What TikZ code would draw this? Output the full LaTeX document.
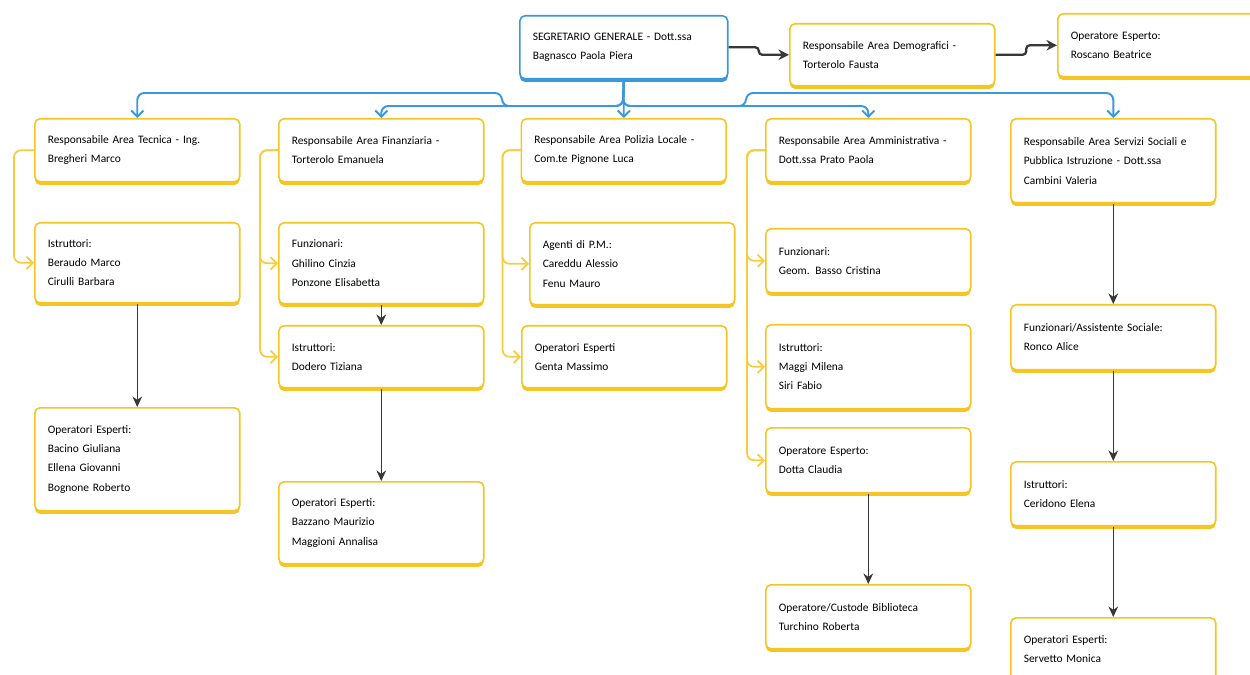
\documentclass[tikz,border=0pt]{standalone}
\usepackage{fontspec}
\setmainfont{Carlito}
\usetikzlibrary{arrows.meta,shadows,calc}
\definecolor{cardyellow}{RGB}{245,197,35}
\definecolor{linkyellow}{RGB}{246,204,64}
\definecolor{headblue}{RGB}{58,152,222}
\definecolor{arrowgrey}{RGB}{55,55,55}
\begin{document}
\begin{tikzpicture}[x=0.02cm,y=-0.02cm,
  card/.style={draw=cardyellow, line width=0.9pt, fill=white, rounded corners=3pt,
    anchor=north west, align=left, text width=3.58cm, inner xsep=0.26cm,
    font=\fontsize{6.5}{11}\selectfont,
    drop shadow={shadow xshift=0pt, shadow yshift=-1.8pt, fill=cardyellow, opacity=1}},
  headcard/.style={card, draw=headblue, text width=3.64cm,
    drop shadow={shadow xshift=0pt, shadow yshift=-1.8pt, fill=headblue, opacity=1}},
  feed/.style={draw=headblue, line width=1.1pt, rounded corners=4pt, -{Straight Barb[length=3.5pt,width=7pt]}},
  branch/.style={draw=linkyellow, line width=1pt, rounded corners=4pt, -{Straight Barb[length=3.5pt,width=7pt]}},
  down/.style={draw=arrowgrey, line width=0.8pt, -{Stealth[length=6pt,width=5.5pt]}},
  side/.style={draw=arrowgrey, line width=1.3pt, rounded corners=2pt, -{Stealth[length=6pt,width=6pt]}}]
\useasboundingbox (0,0) rectangle (1250,675);

% top row
\node[headcard, minimum height=1.26cm] (sg) at (519,15) {SEGRETARIO GENERALE - Dott.ssa\\Bagnasco Paola Piera};
\node[card, minimum height=1.24cm] (demo) at (789,23) {Responsabile Area Demografici -\\Torterolo Fausta};
\node[card, minimum height=1.26cm] (roscano) at (1057,13) {Operatore Esperto:\\Roscano Beatrice};

% area heads
\node[card, minimum height=1.26cm] (tecnica) at (34,118) {Responsabile Area Tecnica - Ing.\\Bregheri Marco};
\node[card, minimum height=1.26cm] (finanz) at (278,118) {Responsabile Area Finanziaria -\\Torterolo Emanuela};
\node[card, minimum height=1.26cm] (polizia) at (520.5,118) {Responsabile Area Polizia Locale -\\Com.te Pignone Luca};
\node[card, minimum height=1.26cm] (ammin) at (765,118) {Responsabile Area Amministrativa -\\Dott.ssa Prato Paola};
\node[card, minimum height=1.68cm] (sociali) at (1010,118) {Responsabile Area Servizi Sociali e\\Pubblica Istruzione - Dott.ssa\\Cambini Valeria};

% area tecnica
\node[card, minimum height=1.6cm] (istr1) at (34,222) {Istruttori:\\Beraudo Marco\\Cirulli Barbara};
\node[card, minimum height=2.06cm] (oper1) at (34,407) {Operatori Esperti:\\Bacino Giuliana\\Ellena Giovanni\\Bognone Roberto};

% area finanziaria
\node[card, minimum height=1.62cm] (funz2) at (278,222) {Funzionari:\\Ghilino Cinzia\\Ponzone Elisabetta};
\node[card, minimum height=1.24cm] (istr2) at (278,325) {Istruttori:\\Dodero Tiziana};
\node[card, minimum height=1.64cm] (oper2) at (278,481) {Operatori Esperti:\\Bazzano Maurizio\\Maggioni Annalisa};

% area polizia locale
\node[card, minimum height=1.64cm] (agenti) at (529,222) {Agenti di P.M.:\\Careddu Alessio\\Fenu Mauro};
\node[card, minimum height=1.24cm] (genta) at (521,325) {Operatori Esperti\\Genta Massimo};

% area amministrativa
\node[card, minimum height=1.28cm] (funz4) at (765,228) {Funzionari:\\Geom. Basso Cristina};
\node[card, minimum height=1.68cm] (istr4) at (765,324) {Istruttori:\\Maggi Milena\\Siri Fabio};
\node[card, minimum height=1.3cm] (oper4) at (765,427) {Operatore Esperto:\\Dotta Claudia};
\node[card, minimum height=1.28cm] (custode) at (765,584) {Operatore/Custode Biblioteca\\Turchino Roberta};

% area servizi sociali
\node[card, minimum height=1.3cm] (funz5) at (1010,304) {Funzionari/Assistente Sociale:\\Ronco Alice};
\node[card, minimum height=1.28cm] (istr5) at (1010,461) {Istruttori:\\Ceridono Elena};
\node[card, minimum height=1.26cm] (oper5) at (1010,617) {Operatori Esperti:\\Servetto Monica};

% segretario -> aree
\coordinate (hub) at (623,106);
\draw[feed] (sg.south) -- (hub) -| (502,93) -| (tecnica.north);
\draw[feed] (sg.south) -- (hub) -| (finanz.north);
\draw[feed] (sg.south) -- (polizia.north);
\draw[feed] (sg.south) -- (hub) -| (ammin.north);
\draw[feed] (sg.south) -- (hub) -| (746,93) -| (sociali.north);

\coordinate (m1) at ($(sg.east)!0.5!(demo.west)$);
\coordinate (m2) at ($(demo.east)!0.5!(roscano.west)$);
\draw[side] (sg.east) -- (sg.east -| m1) |- (demo.west);
\draw[side] (demo.east) -- (demo.east -| m2) |- (roscano.west);

% rami laterali
\draw[branch] (tecnica.west) -- ++(-20,0) |- (istr1.west);
\draw[branch] (finanz.west) -- ++(-18,0) |- (funz2.west);
\draw[branch] (finanz.west) -- ++(-18,0) |- (istr2.west);
\draw[branch] (polizia.west) -- ++(-18,0) |- (agenti.west);
\draw[branch] (polizia.west) -- ++(-18,0) |- (genta.west);
\draw[branch] (ammin.west) -- ++(-18,0) |- (funz4.west);
\draw[branch] (ammin.west) -- ++(-18,0) |- (istr4.west);
\draw[branch] (ammin.west) -- ++(-18,0) |- (oper4.west);

% frecce verticali
\draw[down] (istr1) -- (oper1);
\draw[down] (funz2) -- (istr2);
\draw[down] (istr2) -- (oper2);
\draw[down] (oper4) -- (custode);
\draw[down] (sociali) -- (funz5);
\draw[down] (funz5) -- (istr5);
\draw[down] (istr5) -- (oper5);
\end{tikzpicture}
\end{document}
